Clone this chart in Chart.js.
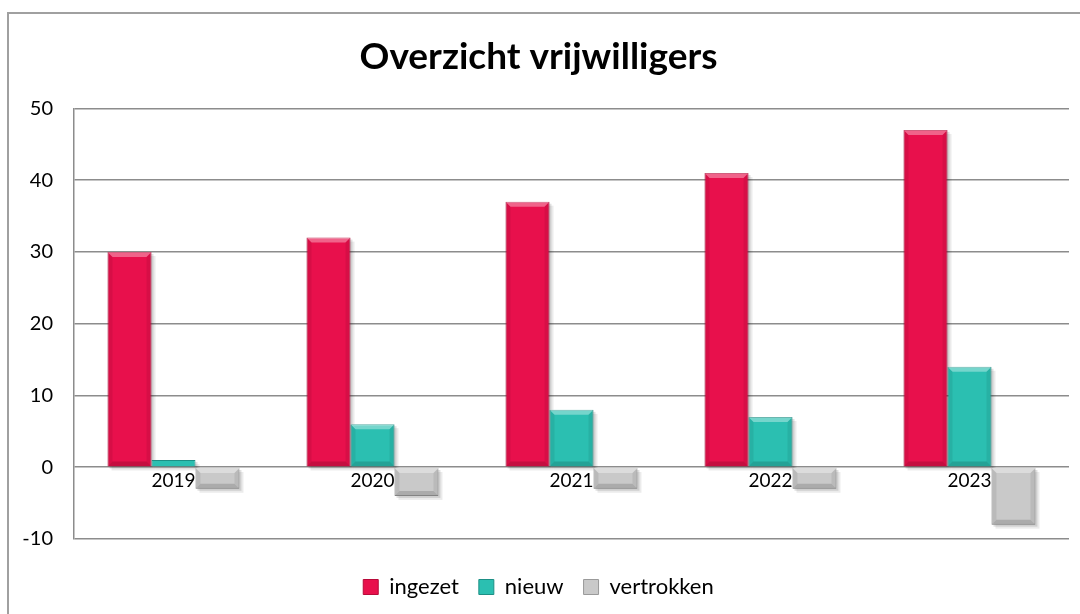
<!DOCTYPE html>
<html>
<head>
<meta charset="utf-8">
<script src="https://cdn.jsdelivr.net/npm/chart.js@4"></script>
<style>
    html, body { margin: 0; padding: 0; background: #fff; overflow: hidden; }
    #wrap { position: relative; width: 1080px; height: 614px; }
    #frame { position: absolute; left: 7px; top: 12px; width: 1100px; height: 640px; border: 2px solid #a0a0a0; box-sizing: border-box; }
    canvas { position: absolute; left: 0; top: 0; }
</style>
</head>
<body>
<div id="wrap">
    <div id="frame"></div>
    <canvas id="chart" width="1080" height="614"></canvas>
</div>
<script>
// Données
const years = ['2019', '2020', '2021', '2022', '2023'];
const ingezet = [30, 32, 37, 41, 47];
const nieuw = [1, 6, 8, 7, 14];
const vertrokken = [-3, -4, -3, -3, -8];
const yTicks = [-10, 0, 10, 20, 30, 40, 50];

const fontFamily = 'Lato, "Open Sans", sans-serif';

// rectangle d'une barre à partir de l'élément Chart.js
function barRect(el) {
    const left = el.x - el.width / 2;
    const top = Math.min(el.y, el.base);
    const h = Math.abs(el.base - el.y);
    return { left, top, w: el.width, h };
}

// Étiquettes des années sous la ligne zéro + ombres des barres
const zeroLabels = {
    id: 'zeroLabels',
    beforeDatasetsDraw(chart) {
        const { ctx, scales: { x, y } } = chart;
        const y0 = y.getPixelForValue(0);
        ctx.save();
        ctx.font = '19px ' + fontFamily;
        ctx.fillStyle = '#000';
        ctx.textAlign = 'center';
        ctx.textBaseline = 'top';
        years.forEach((label, i) => {
            ctx.fillText(label, x.getPixelForValue(i), y0 + 4);
        });
        // ombre douce
        chart.data.datasets.forEach((ds, i) => {
            chart.getDatasetMeta(i).data.forEach(el => {
                const r = barRect(el);
                ctx.fillStyle = 'rgba(0,0,0,0.08)';
                ctx.fillRect(r.left + 4, r.top + 4, r.w, r.h);
                ctx.fillStyle = 'rgba(0,0,0,0.12)';
                ctx.fillRect(r.left + 2, r.top + 2, r.w, r.h);
            });
        });
        ctx.restore();
    },
    // effet biseauté
    afterDatasetsDraw(chart) {
        const ctx = chart.ctx;
        const b = 5;
        ctx.save();
        chart.data.datasets.forEach((ds, i) => {
            chart.getDatasetMeta(i).data.forEach(el => {
                const r = barRect(el);
                if (r.h < 2 * b) return;
                const L = r.left, T = r.top, R = r.left + r.w, B = r.top + r.h;
                // haut clair
                ctx.fillStyle = 'rgba(255,255,255,0.35)';
                ctx.beginPath();
                ctx.moveTo(L, T); ctx.lineTo(R, T); ctx.lineTo(R - b, T + b); ctx.lineTo(L + b, T + b);
                ctx.closePath(); ctx.fill();
                // bas sombre
                ctx.fillStyle = 'rgba(0,0,0,0.15)';
                ctx.beginPath();
                ctx.moveTo(L, B); ctx.lineTo(R, B); ctx.lineTo(R - b, B - b); ctx.lineTo(L + b, B - b);
                ctx.closePath(); ctx.fill();
                // côtés
                ctx.fillStyle = 'rgba(0,0,0,0.07)';
                ctx.beginPath();
                ctx.moveTo(L, T); ctx.lineTo(L + b, T + b); ctx.lineTo(L + b, B - b); ctx.lineTo(L, B);
                ctx.closePath(); ctx.fill();
                ctx.beginPath();
                ctx.moveTo(R, T); ctx.lineTo(R - b, T + b); ctx.lineTo(R - b, B - b); ctx.lineTo(R, B);
                ctx.closePath(); ctx.fill();
            });
        });
        ctx.restore();
    }
};

new Chart(document.getElementById('chart'), {
    type: 'bar',
    data: {
        labels: years,
        datasets: [{
            label: 'ingezet',
            data: ingezet,
            backgroundColor: '#e8104c',
            borderColor: '#b80a3a',
            borderWidth: 1
        }, {
            label: 'nieuw',
            data: nieuw,
            backgroundColor: '#2bbfb1',
            borderColor: '#1d8f85',
            borderWidth: 1
        }, {
            label: 'vertrokken',
            data: vertrokken,
            backgroundColor: '#c9c9c9',
            borderColor: '#9a9a9a',
            borderWidth: 1
        }]
    },
    options: {
        responsive: false,
        animation: false,
        layout: { padding: { left: 8, right: 11, top: 20, bottom: 6 } },
        datasets: { bar: { barPercentage: 1, categoryPercentage: 0.663 } },
        plugins: {
            title: {
                display: true,
                text: 'Overzicht vrijwilligers',
                color: '#000',
                font: { family: fontFamily, size: 37, weight: 'bold' },
                padding: { top: 15, bottom: 29 }
            },
            legend: {
                position: 'bottom',
                labels: {
                    color: '#000',
                    font: { family: fontFamily, size: 22 },
                    boxWidth: 15,
                    boxHeight: 15,
                    padding: 20
                }
            },
            tooltip: { enabled: false }
        },
        scales: {
            x: {
                display: true,
                afterFit(scale) { scale.height = 17; },
                grid: { display: false },
                border: { display: false },
                ticks: { display: false }
            },
            y: {
                min: -10,
                max: 50,
                afterFit(scale) { scale.width = 66; },
                afterBuildTicks(scale) { scale.ticks = yTicks.map(v => ({ value: v })); },
                border: { display: true, color: '#8c8c8c', width: 1.5 },
                grid: { color: '#8c8c8c', lineWidth: 1.5, drawTicks: false },
                ticks: {
                    color: '#000',
                    padding: 21,
                    font: { family: fontFamily, size: 20 }
                }
            }
        }
    },
    plugins: [zeroLabels]
});
</script>
</body>
</html>
